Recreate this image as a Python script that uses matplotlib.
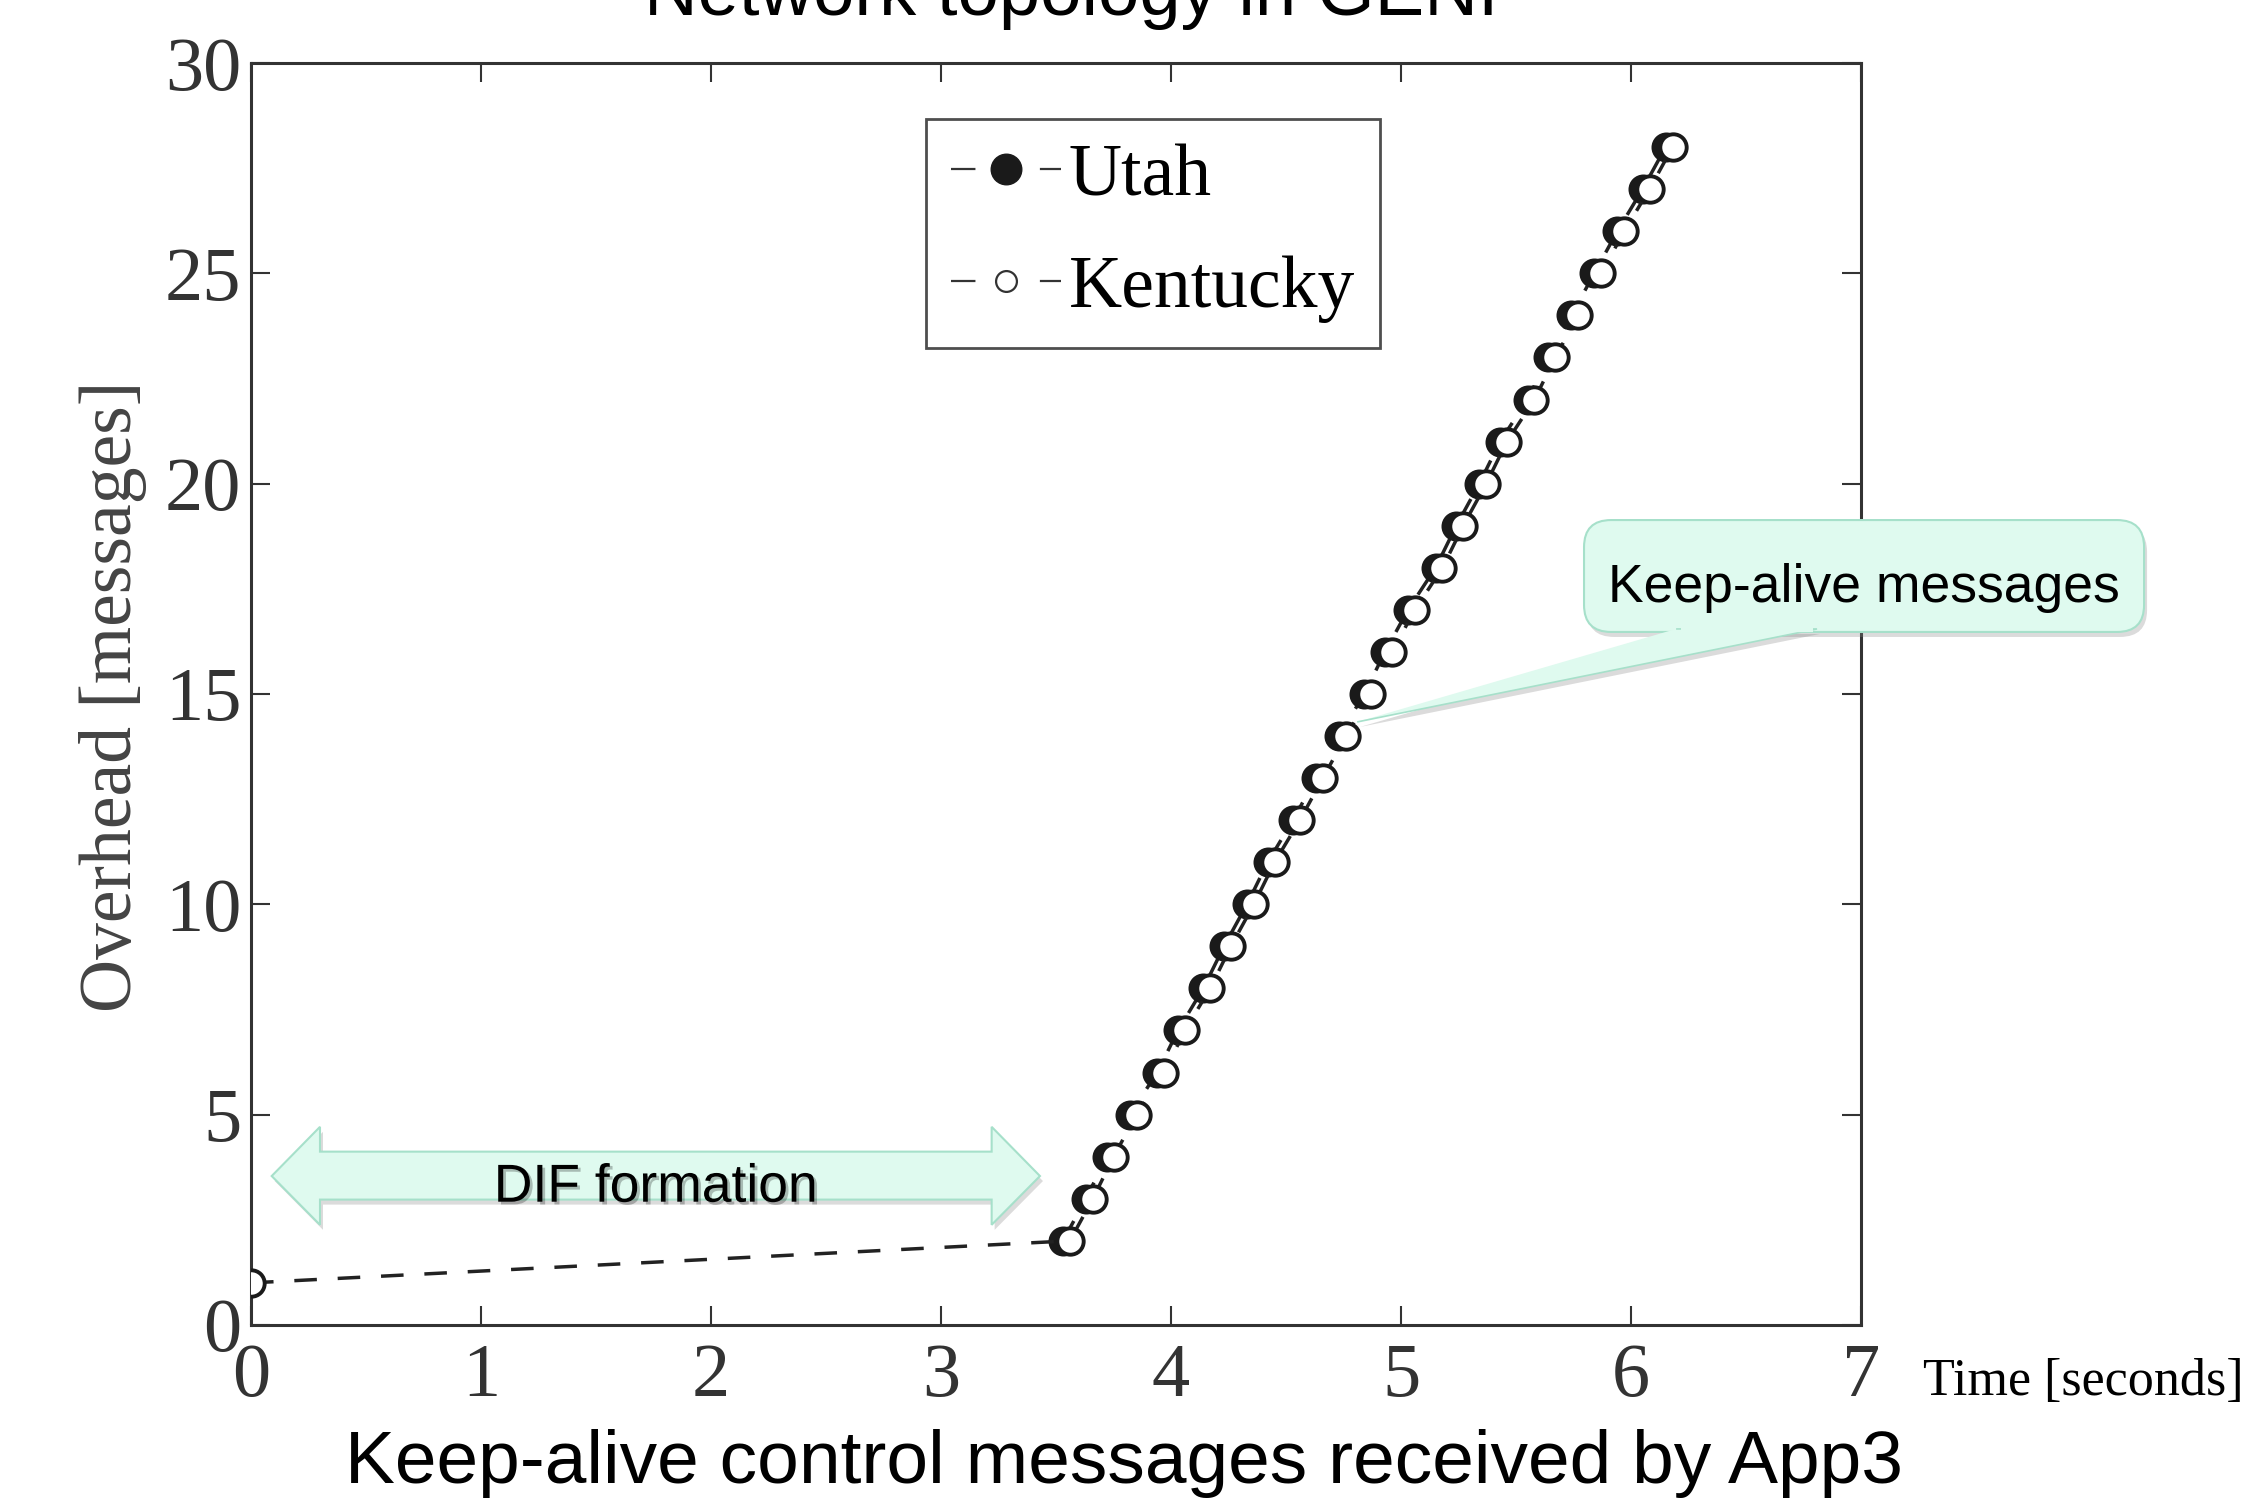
import matplotlib
matplotlib.use("Agg")
import matplotlib.pyplot as plt
import matplotlib.transforms as mtransforms
import matplotlib.patheffects as pe
from matplotlib.patches import Polygon, FancyBboxPatch
from matplotlib.lines import Line2D

# data
kentucky_time = [0.0, 3.56, 3.66, 3.75, 3.85, 3.97, 4.06, 4.17, 4.26, 4.36, 4.45,
                 4.56, 4.66, 4.76, 4.87, 4.96, 5.06, 5.18, 5.27, 5.37, 5.46,
                 5.58, 5.67, 5.77, 5.87, 5.97, 6.08, 6.18]
kentucky_msgs = [1, 2, 3, 4, 5, 6, 7, 8, 9, 10, 11, 12, 13, 14, 15, 16, 17, 18,
                 19, 20, 21, 22, 23, 24, 25, 26, 27, 28]
utah_time = [3.53, 3.63, 3.72, 3.82, 3.94, 4.03, 4.14, 4.23, 4.33, 4.42,
             4.53, 4.63, 4.73, 4.84, 4.93, 5.03, 5.15, 5.24, 5.34, 5.43,
             5.55, 5.64, 5.74, 5.84, 5.94, 6.05, 6.15]
utah_msgs = [2, 3, 4, 5, 6, 7, 8, 9, 10, 11, 12, 13, 14, 15, 16, 17, 18, 19,
             20, 21, 22, 23, 24, 25, 26, 27, 28]
x_ticks = [0, 1, 2, 3, 4, 5, 6, 7]
y_ticks = [0, 5, 10, 15, 20, 25, 30]

SERIF = "Liberation Serif"
SANS = "Liberation Sans"
INK = "#1a1a1a"
MINT = "#dffaef"
MINT_EDGE = "#a6e0ca"

fig = plt.figure(figsize=(22.51, 15), dpi=100)
ax = fig.add_axes([0.1115, 0.1167, 0.7153, 0.8413])

line_kw = dict(linestyle="--", dashes=(6.5, 6), linewidth=2.5, color="#222222")
ax.plot(utah_time, utah_msgs, marker="o", ms=19, mfc=INK, mec=INK, mew=2.6,
        label="Utah", zorder=3, **line_kw)
ax.plot(kentucky_time, kentucky_msgs, marker="o", ms=19, mfc="white", mec=INK,
        mew=2.8, label="Kentucky", zorder=4, **line_kw)

ax.set_xlim(0, 7)
ax.set_ylim(0, 30)
ax.set_xticks(x_ticks)
ax.set_yticks(y_ticks)
ax.set_xticklabels([str(t) for t in x_ticks], family=SERIF, fontsize=55, color="#333333")
ax.set_yticklabels([str(t) for t in y_ticks], family=SERIF, fontsize=55, color="#333333")
ax.tick_params(direction="in", length=14, width=1.5, top=True, right=True, color="#333333")
ax.tick_params(axis="x", pad=13)
ax.tick_params(axis="y", pad=7)
for sp in ax.spines.values():
    sp.set_linewidth(2.2)
    sp.set_color("#333333")

# legend
handles = [
    Line2D([], [], linestyle="--", dashes=(11, 29), linewidth=1.6, color="#333333",
           marker="o", ms=22, mfc=INK, mec=INK),
    Line2D([], [], linestyle="--", dashes=(11, 29), linewidth=1.6, color="#333333",
           marker="o", ms=15, mfc="white", mec="#333333", mew=1.6),
]
leg = ax.legend(handles, ["Utah", "Kentucky"], loc="upper left",
                bbox_to_anchor=(0.419, 0.956), prop={"family": SERIF, "size": 53},
                frameon=True, fancybox=False, edgecolor="#222222",
                handlelength=1.5, handletextpad=0.1, labelspacing=0.6,
                borderpad=0.34, borderaxespad=0.0)
leg.get_frame().set_linewidth(2.0)

# DIF formation double arrow (data coords)
xl_tip, xl_base, xr_base, xr_tip = 0.09, 0.30, 3.22, 3.43
y_mid, y_ht, y_st, y_sb, y_hb = 3.54, 4.71, 4.12, 2.98, 2.38
arrow_pts = [(xl_tip, y_mid), (xl_base, y_ht), (xl_base, y_st), (xr_base, y_st),
             (xr_base, y_ht), (xr_tip, y_mid), (xr_base, y_hb), (xr_base, y_sb),
             (xl_base, y_sb), (xl_base, y_hb)]
shadow_tr = ax.transData + mtransforms.ScaledTranslation(3 / 100, -5 / 100, fig.dpi_scale_trans)
ax.add_patch(Polygon(arrow_pts, closed=True, transform=shadow_tr, facecolor="#888888",
                     edgecolor="none", alpha=0.3, zorder=5))
ax.add_patch(Polygon(arrow_pts, closed=True, facecolor=MINT, edgecolor=MINT_EDGE,
                     linewidth=1.5, zorder=6))
ax.text(1.76, 2.93, "DIF formation", family=SANS, fontsize=38.5, ha="center",
        va="baseline", color="black", zorder=7,
        path_effects=[pe.withSimplePatchShadow(offset=(2, -2), alpha=0.25)])

# Keep-alive callout (figure coords)
bx0, by0, bw, bh = 0.7037, 0.5787, 0.2488, 0.0746
call_pts = [(0.7446, by0 + 0.002), (0.8072, by0 + 0.002), (0.6029, 0.5187)]
fshadow = fig.transFigure + mtransforms.ScaledTranslation(3 / 100, -5 / 100, fig.dpi_scale_trans)
for tr, fc, ec, al, z in [(fshadow, "#888888", "none", 0.3, 8), (fig.transFigure, MINT, MINT_EDGE, 1.0, 9)]:
    fig.patches.append(FancyBboxPatch((bx0, by0), bw, bh,
                                      boxstyle="round,pad=0,rounding_size=0.012",
                                      mutation_aspect=2251 / 1500,
                                      transform=tr, facecolor=fc, edgecolor=ec,
                                      linewidth=1.5, alpha=al, zorder=z))
    fig.patches.append(Polygon(call_pts, closed=True, transform=tr, facecolor=fc,
                               edgecolor="none", alpha=al, zorder=z))
fig.patches.append(Polygon(call_pts, closed=False, transform=fig.transFigure, facecolor="none",
                           edgecolor=MINT_EDGE, linewidth=1.2, zorder=9.5))
fig.patches.append(Polygon([(call_pts[0][0] + 0.002, by0 + 0.001), (call_pts[1][0] - 0.002, by0 + 0.001)],
                           closed=False, transform=fig.transFigure, facecolor="none",
                           edgecolor=MINT, linewidth=3, zorder=9.6))
fig.text(0.828, 0.5987, "Keep-alive messages", family=SANS, fontsize=38.5,
         ha="center", va="baseline", color="black", zorder=10)

# texts around the axes
fig.text(0.05, 0.536, "Overhead [messages]", family=SERIF, fontsize=53,
         rotation=90, ha="center", va="center", color="#444444")
fig.text(0.8545, 0.0700, "Time [seconds]", family=SERIF, fontsize=37.5,
         ha="left", va="baseline", color="black")
fig.text(0.476, 0.99, "Network topology in GENI", family=SANS, fontsize=53.5,
         ha="center", va="baseline", color="black")
fig.text(0.4994, 0.0113, "Keep-alive control messages received by App3", family=SANS,
         fontsize=54, ha="center", va="baseline", color="black")

fig.savefig("out.png", dpi=100)
